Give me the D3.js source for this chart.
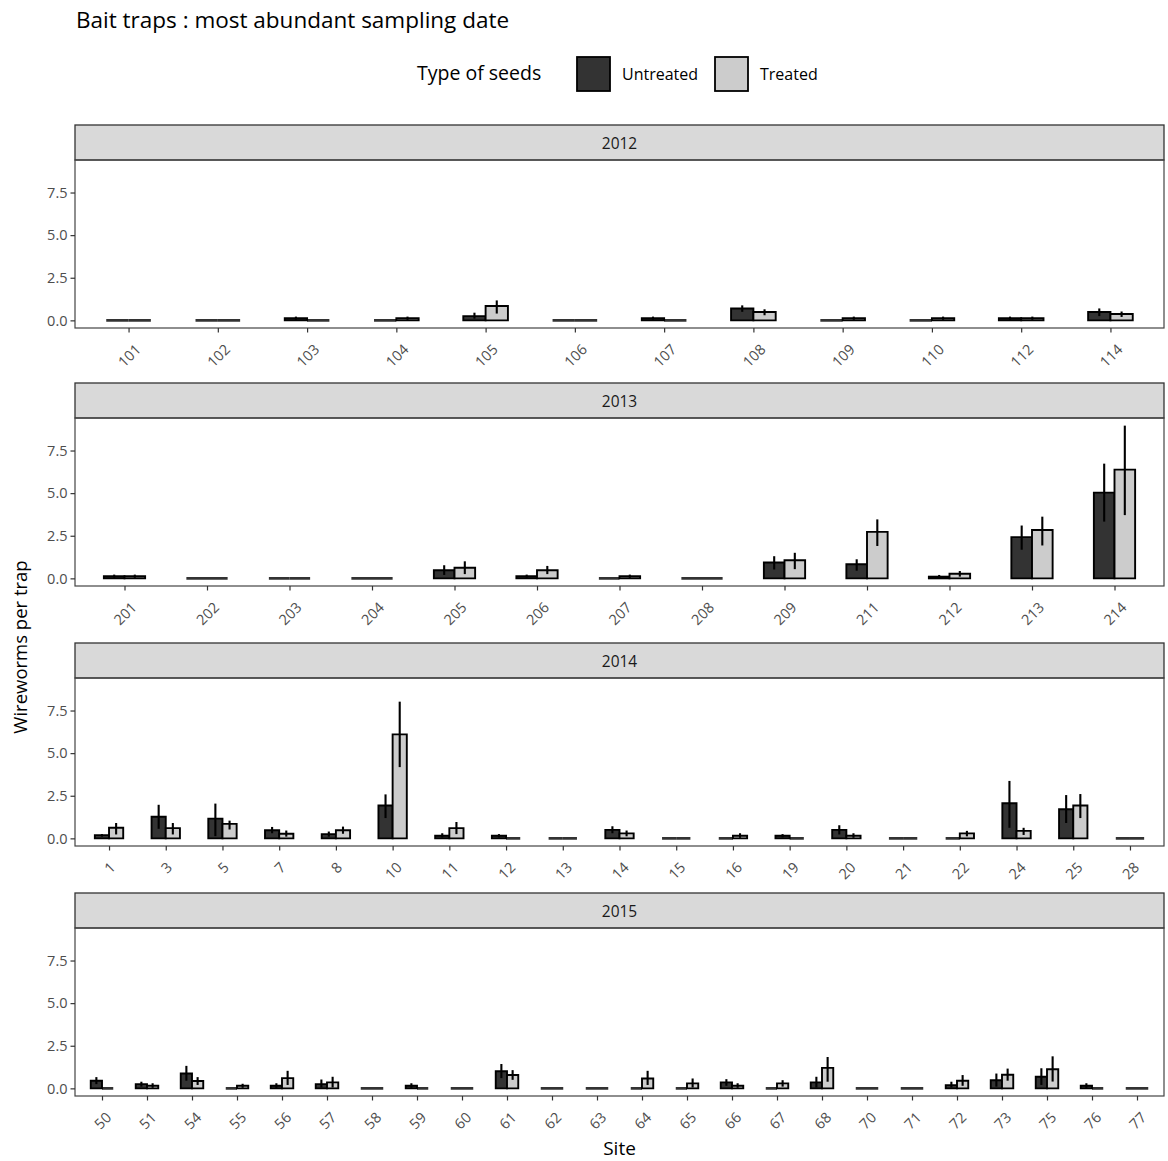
<!DOCTYPE html>
<html>
<head>
<meta charset="utf-8">
<script src="https://cdn.jsdelivr.net/npm/d3@7"></script>
<style>
  body { margin: 0; background: #ffffff; }
  svg { display: block; font-family: "Open Sans", "DejaVu Sans", sans-serif; }
</style>
</head>
<body>
<script>
// ---------------- DATA ----------------
const years = ["2012", "2013", "2014", "2015"];
const seedTypes = ["Untreated", "Treated"];
const yTicks = [0, 2.5, 5, 7.5];

const sites2012 = ["101","102","103","104","105","106","107","108","109","110","112","114"];
const untreated2012   = [0, 0, 0.12, 0, 0.25, 0, 0.12, 0.70, 0, 0, 0.12, 0.49];
const untreatedLo2012 = [0, 0, 0.03, 0, 0.10, 0, 0.03, 0.50, 0, 0, 0.03, 0.25];
const untreatedHi2012 = [0, 0, 0.22, 0, 0.45, 0, 0.22, 0.88, 0, 0, 0.22, 0.70];
const treated2012     = [0, 0, 0, 0.12, 0.84, 0, 0, 0.49, 0.12, 0.12, 0.12, 0.37];
const treatedLo2012   = [0, 0, 0, 0.03, 0.40, 0, 0, 0.30, 0.03, 0.03, 0.03, 0.20];
const treatedHi2012   = [0, 0, 0, 0.22, 1.17, 0, 0, 0.65, 0.22, 0.22, 0.22, 0.52];

const sites2013 = ["201","202","203","204","205","206","207","208","209","211","212","213","214"];
const untreated2013   = [0.12, 0, 0, 0, 0.48, 0.12, 0, 0, 0.93, 0.83, 0.10, 2.42, 5.03];
const untreatedLo2013 = [0.03, 0, 0, 0, 0.20, 0.03, 0, 0, 0.52, 0.45, 0.02, 1.68, 3.33];
const untreatedHi2013 = [0.22, 0, 0, 0, 0.77, 0.22, 0, 0, 1.30, 1.12, 0.20, 3.10, 6.73];
const treated2013     = [0.12, 0, 0, 0, 0.62, 0.48, 0.12, 0, 1.06, 2.73, 0.27, 2.84, 6.38];
const treatedLo2013   = [0.03, 0, 0, 0, 0.25, 0.25, 0.03, 0, 0.54, 1.90, 0.10, 1.93, 3.71];
const treatedHi2013   = [0.22, 0, 0, 0, 1.00, 0.73, 0.22, 0, 1.50, 3.46, 0.43, 3.62, 8.96];

const sites2014 = ["1","3","5","7","8","10","11","12","13","14","15","16","19","20","21","22","24","25","28"];
const untreated2014   = [0.19, 1.27, 1.16, 0.48, 0.25, 1.93, 0.15, 0.15, 0, 0.50, 0, 0, 0.15, 0.50, 0, 0, 2.06, 1.71, 0];
const untreatedLo2014 = [0.10, 0.56, 0.13, 0.30, 0.10, 1.19, 0.05, 0.05, 0, 0.30, 0, 0, 0.05, 0.23, 0, 0, 0.62, 0.90, 0];
const untreatedHi2014 = [0.25, 1.97, 2.04, 0.67, 0.40, 2.58, 0.30, 0.25, 0, 0.71, 0, 0, 0.25, 0.77, 0, 0, 3.37, 2.54, 0];
const treated2014     = [0.62, 0.60, 0.85, 0.27, 0.48, 6.10, 0.60, 0, 0, 0.29, 0, 0.15, 0, 0.15, 0, 0.29, 0.44, 1.93, 0];
const treatedLo2014   = [0.23, 0.23, 0.52, 0.10, 0.27, 4.18, 0.25, 0, 0, 0.12, 0, 0.03, 0, 0.03, 0, 0.12, 0.20, 1.19, 0];
const treatedHi2014   = [0.90, 0.90, 1.04, 0.46, 0.69, 8.02, 0.96, 0, 0, 0.46, 0, 0.30, 0, 0.30, 0, 0.44, 0.62, 2.60, 0];

const sites2015 = ["50","51","54","55","56","57","58","59","60","61","62","63","64","65","66","67","68","70","71","72","73","75","76","77"];
const untreated2015   = [0.45, 0.25, 0.87, 0, 0.15, 0.25, 0, 0.15, 0, 1.00, 0, 0, 0, 0, 0.35, 0, 0.35, 0, 0, 0.19, 0.48, 0.68, 0.15, 0];
const untreatedLo2015 = [0.25, 0.10, 0.45, 0, 0.03, 0.05, 0, 0.03, 0, 0.60, 0, 0, 0, 0, 0.15, 0, 0.05, 0, 0, 0.05, 0.10, 0.20, 0.03, 0];
const untreatedHi2015 = [0.66, 0.39, 1.32, 0, 0.30, 0.52, 0, 0.30, 0, 1.43, 0, 0, 0, 0, 0.54, 0, 0.68, 0, 0, 0.39, 0.87, 1.18, 0.30, 0];
const treated2015     = [0, 0.15, 0.43, 0.15, 0.60, 0.35, 0, 0, 0, 0.78, 0, 0, 0.58, 0.29, 0.15, 0.29, 1.20, 0, 0, 0.45, 0.80, 1.12, 0, 0];
const treatedLo2015   = [0, 0.03, 0.20, 0.03, 0.20, 0.05, 0, 0, 0, 0.50, 0, 0, 0.20, 0.05, 0.03, 0.10, 0.39, 0, 0, 0.15, 0.45, 0.40, 0, 0];
const treatedHi2015   = [0, 0.30, 0.66, 0.27, 1.03, 0.68, 0, 0, 0, 1.07, 0, 0, 1.03, 0.58, 0.30, 0.48, 1.84, 0, 0, 0.78, 1.16, 1.88, 0, 0];

// ---------------- BUILD TABLE ----------------
const panels = [
  {year: years[0], sites: sites2012, series: [[untreated2012, untreatedLo2012, untreatedHi2012], [treated2012, treatedLo2012, treatedHi2012]]},
  {year: years[1], sites: sites2013, series: [[untreated2013, untreatedLo2013, untreatedHi2013], [treated2013, treatedLo2013, treatedHi2013]]},
  {year: years[2], sites: sites2014, series: [[untreated2014, untreatedLo2014, untreatedHi2014], [treated2014, treatedLo2014, treatedHi2014]]},
  {year: years[3], sites: sites2015, series: [[untreated2015, untreatedLo2015, untreatedHi2015], [treated2015, treatedLo2015, treatedHi2015]]}
];

// ---------------- LAYOUT / STYLE ----------------
const W = 1168, H = 1161;
const left = 75, right = 1164;
const stripTops = [125, 383, 643, 893];
const stripH = 35, plotH = 168;
const fills = ["#333333", "#cccccc"];
const fontFam = '"Open Sans", "DejaVu Sans", sans-serif';

const svg = d3.select("body").append("svg")
  .attr("width", W).attr("height", H)
  .attr("viewBox", `0 0 ${W} ${H}`);

svg.append("rect").attr("width", W).attr("height", H).attr("fill", "#ffffff");

// shared y domain (fixed scales across facets, ggplot-like 5% expansion)
const maxHi = d3.max(panels, p => d3.max(p.series, s => d3.max(s[2])));
const yDomain = [-0.05 * maxHi, 1.05 * maxHi];

// Title
svg.append("text")
  .attr("x", 76).attr("y", 28)
  .attr("font-size", 22.5).attr("fill", "#000")
  .text("Bait traps : most abundant sampling date");

// Legend
const leg = svg.append("g");
leg.append("text").attr("x", 417).attr("y", 80).attr("font-size", 19.5).attr("fill", "#000").text("Type of seeds");
const legKeyX = [577, 715];
seedTypes.forEach((s, i) => {
  leg.append("rect").attr("x", legKeyX[i]).attr("y", 57).attr("width", 33).attr("height", 34)
    .attr("fill", fills[i]).attr("stroke", "#000").attr("stroke-width", 1.8);
  leg.append("text").attr("x", legKeyX[i] + 45).attr("y", 80).attr("font-size", 16).attr("fill", "#000").text(s);
});

// Panels
panels.forEach((p, i) => {
  const st = stripTops[i];
  const pt = st + stripH;
  const pb = pt + plotH;
  const g = svg.append("g");

  const y = d3.scaleLinear().domain(yDomain).range([pb, pt]);
  const x = d3.scalePoint().domain(p.sites).range([left, right]).padding(0.6);
  const bw = 0.25 * x.step();

  // strip
  g.append("rect").attr("x", left).attr("y", st).attr("width", right - left).attr("height", stripH)
    .attr("fill", "#d9d9d9").attr("stroke", "#333333").attr("stroke-width", 1.3);
  g.append("text").attr("x", (left + right) / 2).attr("y", st + stripH / 2)
    .attr("text-anchor", "middle").attr("dominant-baseline", "central")
    .attr("font-size", 15.5).attr("fill", "#1a1a1a").text(p.year);

  // bars
  p.series.forEach((s, k) => {
    const [vals, lo, hi] = s;
    const rows = p.sites.map((site, j) => ({site, v: vals[j], lo: lo[j], hi: hi[j]}));
    g.append("g").selectAll("path").data(rows).join("path")
      .attr("d", d => {
        const x0 = x(d.site) - bw + k * bw;
        return `M${x0},${y(0)}H${x0 + bw}V${y(d.v)}H${x0}Z`;
      })
      .attr("fill", fills[k]).attr("stroke", "#000")
      .attr("stroke-width", d => d.v === 0 ? 2.6 : 1.9)
      .attr("stroke-opacity", d => d.v === 0 ? 0.8 : 1)
      .attr("stroke-linejoin", "miter");
    g.append("g").selectAll("line").data(rows.filter(d => d.hi > d.lo)).join("line")
      .attr("x1", d => x(d.site) - bw + k * bw + bw / 2)
      .attr("x2", d => x(d.site) - bw + k * bw + bw / 2)
      .attr("y1", d => y(d.lo)).attr("y2", d => y(d.hi))
      .attr("stroke", "#000").attr("stroke-width", 2.1);
  });

  // panel border
  g.append("rect").attr("x", left).attr("y", pt).attr("width", right - left).attr("height", plotH)
    .attr("fill", "none").attr("stroke", "#444444").attr("stroke-width", 1.2);

  // y axis
  const ya = g.append("g").attr("transform", `translate(${left},0)`)
    .call(d3.axisLeft(y).tickValues(yTicks).tickFormat(d3.format(".1f")).tickSize(4.5).tickPadding(3));
  ya.select(".domain").remove();
  ya.selectAll("line").attr("stroke", "#333333").attr("stroke-width", 1.2);
  ya.selectAll("text").attr("font-size", 14.5).attr("fill", "#4d4d4d").attr("font-family", fontFam);

  // x axis
  const xa = g.append("g").attr("transform", `translate(0,${pb})`)
    .call(d3.axisBottom(x).tickSize(4.5).tickSizeOuter(0));
  xa.select(".domain").remove();
  xa.selectAll("line").attr("stroke", "#333333").attr("stroke-width", 1.2);
  xa.selectAll("text")
    .attr("font-size", 14.5).attr("fill", "#4d4d4d").attr("font-family", fontFam)
    .attr("text-anchor", "middle").attr("dominant-baseline", "central")
    .attr("dy", null)
    .each(function() {
      const w = this.getComputedTextLength();
      const off = 15 + (w + 10) * 0.7071 / 2;
      d3.select(this).attr("x", 0).attr("y", 0)
        .attr("transform", `translate(0,${off}) rotate(-45)`);
    });
});

// axis titles
svg.append("text")
  .attr("transform", `translate(27,647) rotate(-90)`)
  .attr("text-anchor", "middle")
  .attr("font-size", 18.5).attr("fill", "#000")
  .text("Wireworms per trap");

svg.append("text")
  .attr("x", (left + right) / 2).attr("y", 1155)
  .attr("text-anchor", "middle")
  .attr("font-size", 19).attr("fill", "#000")
  .text("Site");
</script>
</body>
</html>
